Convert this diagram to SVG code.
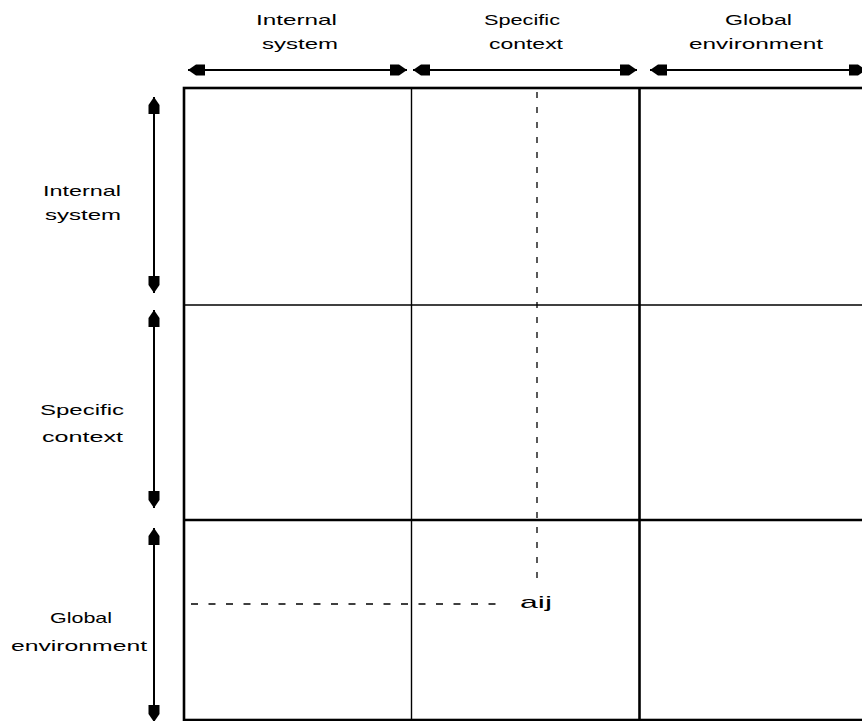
<svg xmlns="http://www.w3.org/2000/svg" width="862" height="721" viewBox="0 0 862 721">
  <style>
    .lbl { font-family: "Liberation Sans", "DejaVu Sans", Arial, sans-serif; font-size: 15px; fill: #000; }
    .thick { stroke: #000; stroke-width: 2.6; fill: none; }
    .thin { stroke: #000; stroke-width: 1.4; fill: none; }
    .arrow { stroke: #000; stroke-width: 2; fill: none; marker-start: url(#head); marker-end: url(#head); }
    .dash { stroke: #000; stroke-width: 1.3; fill: none; }
  </style>
  <defs>
    <marker id="head" markerUnits="userSpaceOnUse" viewBox="-19 -7 20 14" refX="0" refY="0" markerWidth="20" markerHeight="14" orient="auto-start-reverse">
      <path d="M0,0 L-8,-5.5 L-17,-5.5 L-17,5.5 L-8,5.5 Z" fill="#000"/>
    </marker>
  </defs>
  <rect width="862" height="721" fill="#fff"/>

  <g id="grid">
    <rect x="184" y="88" width="700" height="632" class="thick"/>
    <line x1="411.5" y1="88" x2="411.5" y2="720" class="thin"/>
    <line x1="639.5" y1="88" x2="639.5" y2="720" class="thick"/>
    <line x1="184" y1="305" x2="862" y2="305" class="thin"/>
    <line x1="184" y1="520" x2="862" y2="520" class="thick"/>
  </g>

  <g id="col-internal">
    <text class="lbl" x="256" y="25" textLength="81" lengthAdjust="spacingAndGlyphs">Internal</text>
    <text class="lbl" x="262" y="49" textLength="76" lengthAdjust="spacingAndGlyphs">system</text>
  </g>
  <g id="col-specific">
    <text class="lbl" x="484" y="25" textLength="76" lengthAdjust="spacingAndGlyphs">Specific</text>
    <text class="lbl" x="489" y="49" textLength="74" lengthAdjust="spacingAndGlyphs">context</text>
  </g>
  <g id="col-global">
    <text class="lbl" x="725" y="25" textLength="67" lengthAdjust="spacingAndGlyphs">Global</text>
    <text class="lbl" x="689" y="49" textLength="134" lengthAdjust="spacingAndGlyphs">environment</text>
  </g>

  <g id="row-internal">
    <text class="lbl" x="43" y="196" textLength="78" lengthAdjust="spacingAndGlyphs">Internal</text>
    <text class="lbl" x="45" y="220" textLength="76" lengthAdjust="spacingAndGlyphs">system</text>
  </g>
  <g id="row-specific">
    <text class="lbl" x="40" y="415" textLength="84" lengthAdjust="spacingAndGlyphs">Specific</text>
    <text class="lbl" x="42" y="442" textLength="81" lengthAdjust="spacingAndGlyphs">context</text>
  </g>
  <g id="row-global">
    <text class="lbl" x="50" y="623" textLength="62" lengthAdjust="spacingAndGlyphs">Global</text>
    <text class="lbl" x="11" y="651" textLength="136" lengthAdjust="spacingAndGlyphs">environment</text>
  </g>

  <g id="cell-aij">
    <text class="lbl" x="520" y="608" textLength="32" lengthAdjust="spacingAndGlyphs" style="font-size:17px">aij</text>
  </g>

  <g id="connectors">
    <line class="arrow" x1="188" y1="70" x2="407" y2="70"/>
    <line class="arrow" x1="413" y1="70" x2="637" y2="70"/>
    <line class="arrow" x1="650" y1="70" x2="866" y2="70"/>
    <line class="arrow" x1="154" y1="97" x2="154" y2="293"/>
    <line class="arrow" x1="154" y1="310" x2="154" y2="508"/>
    <line class="arrow" x1="154" y1="528" x2="154" y2="722"/>
    <line class="dash" x1="537" y1="92" x2="537" y2="584" stroke-dasharray="6 9"/>
    <line class="dash" x1="191" y1="604" x2="506" y2="604" stroke-dasharray="7 10.5"/>
  </g>
</svg>
